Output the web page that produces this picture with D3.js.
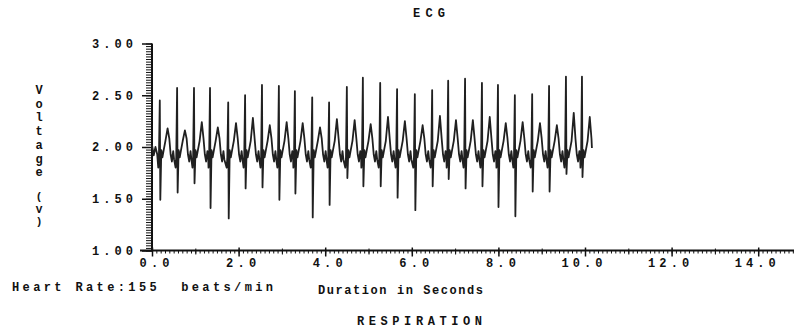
<!DOCTYPE html>
<html>
<head>
<meta charset="utf-8">
<script src="https://cdn.jsdelivr.net/npm/d3@7"></script>
<style>
  body { margin: 0; background: #fff; }
  text { font-family: "Liberation Mono", "DejaVu Sans Mono", monospace; font-weight: bold; fill: #111; }
</style>
</head>
<body>
<div id="chart"></div>
<script>
// beat-by-beat readings (seconds, volts)
const beatTimes = [0.18, 0.58, 0.97, 1.34, 1.76, 2.15, 2.54, 2.93, 3.30, 3.70, 4.09, 4.50, 4.87,
                   5.27, 5.66, 6.07, 6.47, 6.84, 7.23, 7.62, 7.99, 8.38, 8.78, 9.17, 9.56, 9.93];
const rPeaks = [2.45, 2.57, 2.57, 2.57, 2.43, 2.50, 2.60, 2.59, 2.54, 2.48, 2.43, 2.58, 2.67,
                2.62, 2.56, 2.51, 2.55, 2.64, 2.66, 2.62, 2.60, 2.50, 2.51, 2.59, 2.68, 2.68];
const sTroughs = [1.49, 1.56, 1.65, 1.41, 1.31, 1.60, 1.61, 1.49, 1.55, 1.32, 1.44, 1.70, 1.62,
                  1.62, 1.51, 1.39, 1.62, 1.69, 1.60, 1.62, 1.42, 1.33, 1.57, 1.57, 1.74, 1.71];
const tPeaks = [2.18, 2.16, 2.24, 2.19, 2.23, 2.28, 2.21, 2.24, 2.23, 2.19, 2.27, 2.26, 2.22,
                2.29, 2.25, 2.21, 2.30, 2.26, 2.26, 2.29, 2.23, 2.24, 2.23, 2.21, 2.33, 2.29];

// shape of one cycle around the R spike (seconds from R, volts); R/S/T come from the arrays above
const shapeOffsets = [-0.035, -0.02, 0, 0.012, 0.035, 0.06, 0.09, 0.13, 0.18, 0.22, 0.25, 0.28, 0.31, 0.33];
const shapeLevels = [1.80, 1.90, 'R', 'S', 1.97, 1.90, 1.97, 2.06, 'T', 2.08, 1.93, 1.86, 1.96, 1.88];
const leadIn = [[0, 2.02], [0.04, 1.92], [0.08, 2.00], [0.12, 1.93]];
const traceEnd = [10.16, 1.99];

const xTicks = [0, 2, 4, 6, 8, 10, 12, 14];
const yTicks = [1.0, 1.5, 2.0, 2.5, 3.0];

const width = 794;
const height = 335;

const svg = d3.select('#chart')
  .append('svg')
  .attr('width', width)
  .attr('height', height);

const x = d3.scaleLinear().domain([0, 15]).range([152, 152 + 15 * 43.3]);
const y = d3.scaleLinear().domain([1, 3]).range([250.5, 43.5]);

// build trace points
const points = leadIn.slice();
beatTimes.forEach((bt, i) => {
  shapeOffsets.forEach((off, j) => {
    const t = bt + off;
    if (t > traceEnd[0]) return;
    let v = shapeLevels[j];
    if (v === 'R') v = rPeaks[i];
    else if (v === 'S') v = sTroughs[i];
    else if (v === 'T') v = tPeaks[i];
    points.push([t, v]);
  });
});
points.push(traceEnd);

// title
svg.append('text')
  .attr('x', 413)
  .attr('y', 17)
  .attr('font-size', 12)
  .attr('textLength', 32)
  .attr('lengthAdjust', 'spacing')
  .text('ECG');

// y axis: minor ticks then major ticks with labels
svg.append('g')
  .attr('transform', 'translate(152,0)')
  .call(d3.axisLeft(y).tickValues(d3.range(1, 3.001, 0.025)).tickSize(6).tickFormat(''))
  .call(g => g.select('.domain').remove())
  .call(g => g.selectAll('line').attr('stroke', '#111'));

const yAxis = svg.append('g')
  .attr('class', 'y-axis')
  .attr('transform', 'translate(152,0)')
  .call(d3.axisLeft(y).tickValues(yTicks).tickSize(10).tickPadding(9).tickFormat(d3.format('.2f')));
yAxis.select('.domain').remove();
yAxis.selectAll('line').attr('stroke', '#111').attr('stroke-width', 1.5);
yAxis.selectAll('text')
  .attr('font-size', 12)
  .attr('font-family', null)
  .attr('dy', '0.33em')
  .attr('textLength', 41)
  .attr('lengthAdjust', 'spacing');

svg.append('line')
  .attr('x1', 152).attr('x2', 152)
  .attr('y1', y(3)).attr('y2', y(1))
  .attr('stroke', '#111')
  .attr('stroke-width', 2);

// x axis
svg.append('g')
  .attr('transform', `translate(0,${y(1)})`)
  .call(d3.axisBottom(x).tickValues(d3.range(0, 15.001, 0.1)).tickSize(3).tickFormat(''))
  .call(g => g.select('.domain').remove())
  .call(g => g.selectAll('line').attr('stroke', '#111'));

svg.append('g')
  .attr('transform', `translate(0,${y(1)})`)
  .call(d3.axisBottom(x).tickValues(d3.range(1, 15, 2)).tickSize(4).tickFormat(''))
  .call(g => g.select('.domain').remove())
  .call(g => g.selectAll('line').attr('stroke', '#111').attr('y1', -2));

const xAxis = svg.append('g')
  .attr('class', 'x-axis')
  .attr('transform', `translate(0,${y(1)})`)
  .call(d3.axisBottom(x).tickValues(xTicks).tickSize(6).tickPadding(10).tickFormat(d3.format('.1f')));
xAxis.select('.domain').remove();
xAxis.selectAll('line').attr('stroke', '#111').attr('stroke-width', 1.5).attr('y1', -3);
xAxis.selectAll('text')
  .attr('font-size', 12)
  .attr('font-family', null)
  .attr('text-anchor', 'end')
  .attr('x', 17)
  .attr('dy', null)
  .attr('y', 16.5)
  .attr('textLength', d => d >= 10 ? 41 : 30)
  .attr('lengthAdjust', 'spacing');

svg.append('line')
  .attr('x1', 140).attr('x2', width)
  .attr('y1', y(1)).attr('y2', y(1))
  .attr('stroke', '#111')
  .attr('stroke-width', 2);

// ECG trace
const line = d3.line()
  .x(d => x(d[0]))
  .y(d => y(d[1]));

svg.append('path')
  .datum(points)
  .attr('fill', 'none')
  .attr('stroke', '#202020')
  .attr('stroke-width', 1.8)
  .attr('stroke-linejoin', 'round')
  .attr('d', line);

// vertical y label, one letter per line
const yLetters = 'Voltage'.split('');
svg.append('g').selectAll('text')
  .data(yLetters)
  .enter()
  .append('text')
  .attr('x', 39)
  .attr('y', (d, i) => 94 + i * 13.7)
  .attr('text-anchor', 'middle')
  .attr('font-size', 12)
  .text(d => d);

svg.append('g').selectAll('text')
  .data(['(', 'V', ')'])
  .enter()
  .append('text')
  .attr('x', 39)
  .attr('y', (d, i) => 200 + i * 12.5)
  .attr('text-anchor', 'middle')
  .attr('font-size', 11)
  .text(d => d);

// bottom texts
svg.append('text')
  .attr('x', 12)
  .attr('y', 291)
  .attr('font-size', 12)
  .attr('textLength', 261)
  .attr('lengthAdjust', 'spacing')
  .attr('xml:space', 'preserve')
  .text('Heart Rate:155  beats/min');

svg.append('text')
  .attr('x', 318)
  .attr('y', 294)
  .attr('font-size', 12)
  .attr('textLength', 165)
  .attr('lengthAdjust', 'spacing')
  .text('Duration in Seconds');

svg.append('text')
  .attr('x', 357)
  .attr('y', 325)
  .attr('font-size', 12)
  .attr('textLength', 125)
  .attr('lengthAdjust', 'spacing')
  .text('RESPIRATION');
</script>
</body>
</html>
